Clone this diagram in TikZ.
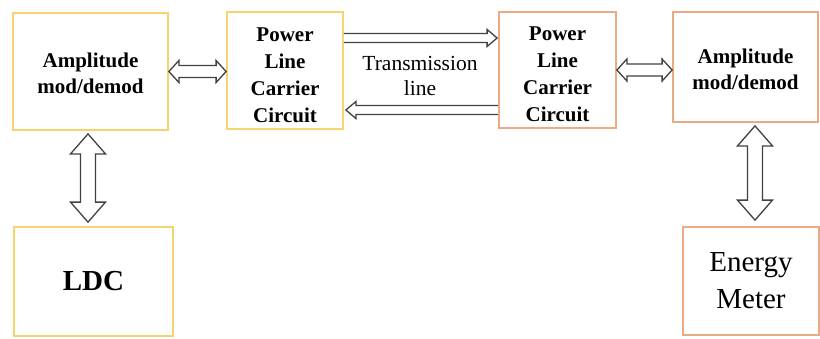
\documentclass[tikz,border=0pt]{standalone}
\usepackage{fontspec}
\setmainfont{LiberationSerif}[Extension=.ttf, UprightFont=*-Regular, BoldFont=*-Bold, ItalicFont=*-Italic, BoldItalicFont=*-BoldItalic]
\usetikzlibrary{calc}
\definecolor{boxyellow}{RGB}{245,212,110}
\definecolor{boxorange}{RGB}{234,170,132}
\definecolor{arrowgray}{RGB}{65,65,65}
\tikzset{
  blk/.style={draw, line width=1.8pt, inner sep=0pt, align=center},
  ybox/.style={blk, draw=boxyellow},
  obox/.style={blk, draw=boxorange},
  barrow/.style={draw=arrowgray, line width=1.3pt, fill=white, line join=miter},
  bold21/.style={font=\fontsize{21}{26}\selectfont\bfseries},
  plctext/.style={align=center, inner sep=0pt, font=\fontsize{21}{27}\selectfont\bfseries},
}
% horizontal double-headed block arrow
\newcommand\HDbl[2]{%
 \draw[barrow] let \p1=(#1), \p2=(#2) in
 (\x1,\y1) -- (\x1+10pt,\y1+11pt) -- (\x1+10pt,\y1+6pt) -- (\x2-10pt,\y1+6pt) -- (\x2-10pt,\y1+11pt)
 -- (\x2,\y1) -- (\x2-10pt,\y1-11pt) -- (\x2-10pt,\y1-6pt) -- (\x1+10pt,\y1-6pt) -- (\x1+10pt,\y1-11pt) -- cycle;}
% vertical double-headed block arrow (#1 top, #2 bottom)
\newcommand\VDbl[2]{%
 \draw[barrow] let \p1=(#1), \p2=(#2) in
 (\x1,\y1) -- (\x1+17.5pt,\y1-20pt) -- (\x1+7.5pt,\y1-20pt) -- (\x1+7.5pt,\y2+20pt) -- (\x1+17.5pt,\y2+20pt)
 -- (\x1,\y2) -- (\x1-17.5pt,\y2+20pt) -- (\x1-7.5pt,\y2+20pt) -- (\x1-7.5pt,\y1-20pt) -- (\x1-17.5pt,\y1-20pt) -- cycle;}
% single right-pointing block arrow (#1 tail, #2 tip)
\newcommand\RArr[2]{%
 \draw[barrow] let \p1=(#1), \p2=(#2) in
 (\x1,\y1+4.5pt) -- (\x2-10pt,\y1+4.5pt) -- (\x2-10pt,\y1+8.5pt) -- (\x2,\y1)
 -- (\x2-10pt,\y1-8.5pt) -- (\x2-10pt,\y1-4.5pt) -- (\x1,\y1-4.5pt);}
% single left-pointing block arrow (#1 tip, #2 tail)
\newcommand\LArr[2]{%
 \draw[barrow] let \p1=(#1), \p2=(#2) in
 (\x2,\y1+4.5pt) -- (\x1+10pt,\y1+4.5pt) -- (\x1+10pt,\y1+8.5pt) -- (\x1,\y1)
 -- (\x1+10pt,\y1-8.5pt) -- (\x1+10pt,\y1-4.5pt) -- (\x2,\y1-4.5pt);}
\begin{document}
\begin{tikzpicture}[x=1pt,y=-1pt]
\useasboundingbox (0,0) rectangle (820,338);
% boxes
\node[ybox, minimum width=155pt, minimum height=117pt] (amp1) at (90.5,71.5) {};
\node[align=center, inner sep=0pt, bold21] (amp1t) at ($(amp1)+(0,1.5)$) {Amplitude\\mod/demod};
\node[ybox, minimum width=116pt, minimum height=117pt] (plc1) at (285,70.5) {};
\node[plctext] (plc1t) at ($(plc1)+(0,4.5)$) {Power\\Line\\Carrier\\Circuit};
\node[obox, minimum width=117pt, minimum height=116pt] (plc2) at (557.5,70) {};
\node[plctext] (plc2t) at ($(plc2)+(0,4)$) {Power\\Line\\Carrier\\Circuit};
\node[obox, minimum width=145pt, minimum height=110pt] (amp2) at (745.5,67) {};
\node[align=center, inner sep=0pt, bold21] (amp2t) at ($(amp2)+(0,2.5)$) {Amplitude\\mod/demod};
\node[ybox, minimum width=159pt, minimum height=109pt, font=\fontsize{29}{34}\selectfont\bfseries] (ldc) at (93.5,281.5) {LDC};
\node[obox, minimum width=136pt, minimum height=108pt, font=\fontsize{29}{37}\selectfont] (em) at (751,281) {Energy\\Meter};
\node[align=center, font=\fontsize{21.5}{25}\selectfont] (tl) at (420,75.5) {Transmission\\line};
% connectors
\HDbl{amp1.east}{plc1.west}
\HDbl{plc2.east}{amp2.west}
\RArr{$(plc1.east)+(0,-32.5)$}{$(plc2.west)+(-1,-32)$}
\LArr{$(plc1.east)+(2,39.5)$}{$(plc2.west)+(0,40)$}
\VDbl{$(amp1.south)+(-2.5,3)$}{$(ldc.north)+(0,-4)$}
\VDbl{$(amp2.south)+(9.5,3)$}{$(em.north)+(0,-6)$}
\end{tikzpicture}
\end{document}
